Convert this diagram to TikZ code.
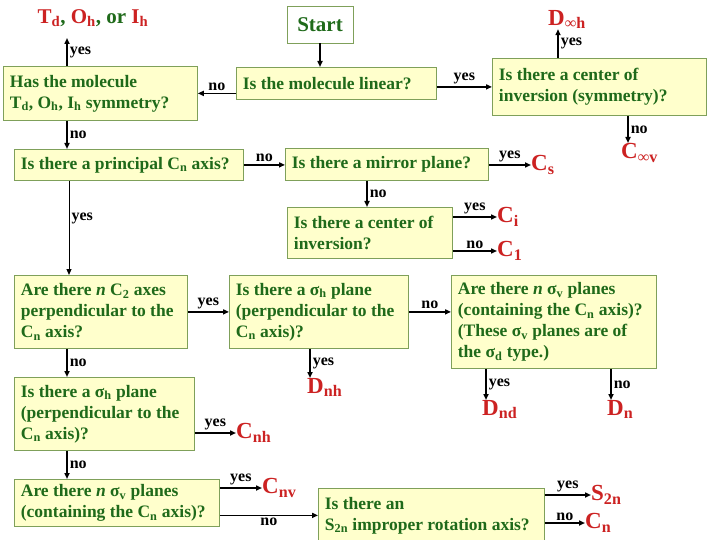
\documentclass[tikz,border=0pt]{standalone}
\usepackage{fontspec}
\setmainfont{Liberation Serif}
\usetikzlibrary{positioning,arrows.meta}
\definecolor{boxbg}{HTML}{FFFFCC}
\definecolor{boxline}{HTML}{7FA05A}
\definecolor{qgreen}{HTML}{1F6A1A}
\definecolor{grpred}{HTML}{CC2222}
\newcommand\ix[1]{\textsubscript{#1}}

\begin{document}
\begin{tikzpicture}[x=1pt, y=-1pt,
  qbox/.style={draw=boxline, line width=0.8pt, fill=boxbg, text=qgreen,
    font=\bfseries\fontsize{17.5}{21}\selectfont, align=flush left,
    inner xsep=6.5pt, inner ysep=2pt, anchor=north west},
  grp/.style={text=grpred, font=\bfseries\fontsize{23}{24}\selectfont, inner sep=0pt, anchor=west},
  ans/.style={font=\bfseries\fontsize{16}{18}\selectfont, inner sep=2pt},
  flow/.style={line width=1.5pt, -{Triangle[length=6pt,width=5pt]}}]
  \useasboundingbox (0,0) rectangle (720,540);

  % columns of the vertical arrows
  \coordinate (xa) at (67,0);
  \coordinate (xb) at (69,0);
  \coordinate (xc) at (367,0);
  \coordinate (xd) at (310,0);
  \coordinate (xe) at (486,0);
  \coordinate (xf) at (611,0);
  \coordinate (xg) at (558,0);
  \coordinate (xh) at (628,0);
  \coordinate (tdtip) at (67,38);

  % top row
  \node[draw=boxline, line width=0.8pt, fill=white, text=qgreen, minimum width=66pt, minimum height=37pt,
    font=\bfseries\fontsize{21}{24}\selectfont] (start) at (320,24.5) {Start};
  \node[text=qgreen, font=\bfseries\fontsize{21}{24}\selectfont, inner sep=0pt] (tdoh) at (93,18)
    {\textcolor{grpred}{T\ix{d}}, \textcolor{grpred}{O\ix{h}}, or \textcolor{grpred}{I\ix{h}}};
  \node[grp, anchor=north west] (dooh) at (548,10) {D\ix{∞h}};

  % questions
  \node[qbox, text width=181pt, minimum height=54pt] (hasmol) at (3,66)
    {Has the molecule\\T\ix{d}, O\ix{h}, I\ix{h} symmetry?};
  \node[qbox, text width=187pt, minimum height=32pt] (linear) at (236,67) {Is the molecule linear?};
  \node[qbox, text width=201pt, minimum height=57pt] (invsym) at (492,58)
    {Is there a center of\\inversion (symmetry)?};
  \node[qbox, text width=216pt, minimum height=31pt] (principal) at (14,149) {Is there a principal C\ix{n} axis?};
  \node[qbox, text width=190pt, minimum height=32pt] (mirror) at (285,148) {Is there a mirror plane?};
  \node[qbox, text width=152pt, minimum height=51pt] (center2) at (287,207)
    {Is there a center of\\inversion?};
  \node[qbox, text width=160pt, minimum height=73pt] (c2ax) at (14,275)
    {Are there \textit{n} C\ix{2} axes\\perpendicular to the\\C\ix{n} axis?};
  \node[qbox, text width=166pt, minimum height=73pt] (sigh1) at (229,275)
    {Is there a σ\ix{h} plane\\(perpendicular to the\\C\ix{n} axis)?};
  \node[qbox, text width=192pt, minimum height=93pt] (sigd) at (451,275)
    {Are there \textit{n} σ\ix{v} planes\\(containing the C\ix{n} axis)?\\(These σ\ix{v} planes are of\\the σ\ix{d} type.)};
  \node[qbox, text width=167pt, minimum height=73pt] (sigh2) at (14,377)
    {Is there a σ\ix{h} plane\\(perpendicular to the\\C\ix{n} axis)?};
  \node[qbox, text width=192pt, minimum height=47pt] (sigv) at (14,479)
    {Are there \textit{n} σ\ix{v} planes\\(containing the C\ix{n} axis)?};
  \node[qbox, text width=213pt, minimum height=54pt] (s2n) at (318,488)
    {Is there an\\S\ix{2n} improper rotation axis?};

  % point groups
  \node[grp, anchor=north west] (cinfv) at (621,143) {C\ix{∞v}};
  \node[grp] (cs) at (531,165) {C\ix{s}};
  \node[grp] (ci) at (497,217) {C\ix{i}};
  \node[grp] (c1) at (497,251) {C\ix{1}};
  \node[grp, anchor=north west] (dnh) at (307,378) {D\ix{nh}};
  \node[grp, anchor=north west] (dnd) at (482,400) {D\ix{nd}};
  \node[grp, anchor=north west] (dn) at (607,400) {D\ix{n}};
  \node[grp] (cnh) at (236,433) {C\ix{nh}};
  \node[grp] (cnv) at (262,488) {C\ix{nv}};
  \node[grp] (s2ng) at (591,495) {S\ix{2n}};
  \node[grp] (cn) at (585,523) {C\ix{n}};

  % connectors
  \draw[flow] (start) -- (start |- linear.north);
  \draw[flow] (hasmol.north -| xa) -- node[ans, anchor=west] (l1) {yes} (tdtip);
  \draw[flow] (linear.west |- hasmol.east) -- node[ans, above] (l2) {no} (hasmol.east);
  \draw[flow] (linear.east |- invsym.west) -- node[ans, above] (l3) {yes} (invsym.west);
  \draw[flow] (invsym.north -| xg) -- node[ans, anchor=west] (l4) {yes} (dooh.south -| xg);
  \draw[flow] (invsym.south -| xh) -- node[ans, anchor=west] (l5) {no} (cinfv.north -| xh);
  \draw[flow] (hasmol.south -| xa) -- node[ans, anchor=west] (l6) {no} (principal.north -| xa);
  \draw[flow] (principal.east) -- node[ans, above] (l7) {no} (principal.east -| mirror.west);
  \draw[line width=1pt, -{Triangle[length=6pt,width=5pt]}] (principal.south -| xb)
    -- node[ans, anchor=west, pos=0.4] (l8) {yes} (c2ax.north -| xb);
  \draw[flow] (mirror.east |- cs.west) -- node[ans, above] (l9) {yes} (cs.west);
  \draw[flow] (mirror.south -| xc) -- node[ans, anchor=west] (l10) {no} (center2.north -| xc);
  \draw[flow] (center2.east |- ci.west) -- node[ans, above] (l11) {yes} (ci.west);
  \draw[flow] (center2.east |- c1.west) -- node[ans, above] (l12) {no} (c1.west);
  \draw[flow] (c2ax.east) -- node[ans, above] (l13) {yes} (sigh1.west);
  \draw[flow] (sigh1.east) -- node[ans, above] (l14) {no} (sigh1.east -| sigd.west);
  \draw[flow] (sigh1.south -| xd) -- node[ans, anchor=west] (l15) {yes} (dnh.north -| xd);
  \draw[flow] (sigd.south -| xe) -- node[ans, anchor=west] (l16) {yes} (dnd.north -| xe);
  \draw[flow] (sigd.south -| xf) -- node[ans, anchor=west] (l17) {no} (dn.north -| xf);
  \draw[flow] (c2ax.south -| xa) -- node[ans, anchor=west] (l18) {no} (sigh2.north -| xa);
  \draw[flow] (sigh2.east |- cnh.west) -- node[ans, above] (l19) {yes} (cnh.west);
  \draw[flow] (sigh2.south -| xa) -- node[ans, anchor=west] (l20) {no} (sigv.north -| xa);
  \draw[flow] (sigv.east |- cnv.west) -- node[ans, above] (l21) {yes} (cnv.west);
  \draw[flow] (sigv.east |- s2n.west) -- node[ans, below] (l22) {no} (s2n.west);
  \draw[flow] (s2n.east |- s2ng.west) -- node[ans, above] (l23) {yes} (s2ng.west);
  \draw[flow] (s2n.east |- cn.west) -- node[ans, above] (l24) {no} (cn.west);
\end{tikzpicture}
\end{document}
